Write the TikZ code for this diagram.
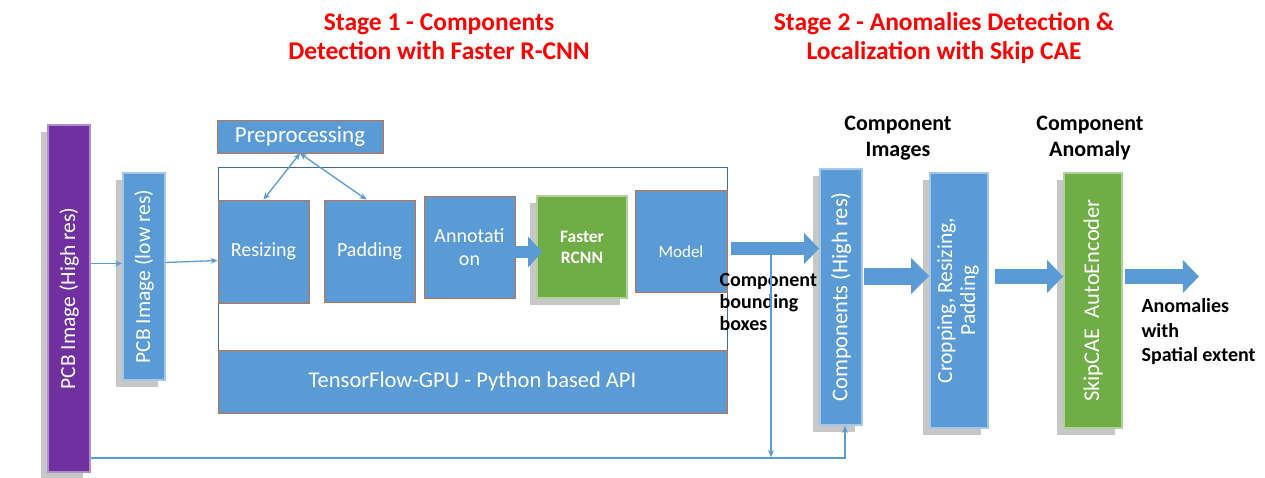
\documentclass[tikz,border=0pt]{standalone}
\usepackage{fontspec}
\setmainfont{Carlito}
\usepackage{graphicx}
\usepackage{tikz}
\definecolor{bx}{RGB}{91, 155, 213}
\definecolor{gn}{RGB}{112, 173, 71}
\definecolor{pp}{RGB}{112, 48, 160}
\definecolor{br}{RGB}{190, 115, 75}
\definecolor{rd}{RGB}{255, 0, 0}
\usetikzlibrary{positioning}
\usetikzlibrary{arrows.meta}
\usetikzlibrary{shadows}
\tikzset{
  shd/.style={drop shadow={shadow xshift=-7pt, shadow yshift=-7pt, opacity=0.22, fill=black}},
  box/.style={rectangle, inner sep=0pt, fill=bx, draw=br, line width=0.8pt, text=white, align=center},
  bar/.style={rectangle, inner sep=0pt, fill=bx, draw=bx!55!white, line width=1.8pt, text=white, shd},
  thin/.style={draw=bx, line width=1.3pt, -{Stealth[length=7pt, width=6pt]}},
  fat/.style={draw=bx, line width=15pt, -{Triangle[length=16pt, width=32pt]}},
  lbl/.style={font=\bfseries\fontsize{22}{26}\selectfont, align=center},
  ttl/.style={text=rd, font=\bfseries\fontsize{25.5}{29}\selectfont, align=center}
}

\begin{document}
\begin{tikzpicture}
\useasboundingbox (0pt, 0pt) rectangle (1265pt, -478pt);
% titles
\node (t1) [ttl] at (439pt, -37pt) {Stage 1 - Components\\Detection with Faster R-CNN};
\node (t2) [ttl] at (944pt, -38pt) {Stage 2 - Anomalies Detection \&\\Localization with Skip CAE};
% input images
\node (pcbh) [bar, fill=pp, draw=pp!55!white, minimum width=42pt, minimum height=347pt] at (69pt, -298.5pt)
  {\rotatebox{90}{\fontsize{21.5}{24}\selectfont PCB Image (High res)}};
\node (pcbl) [bar, minimum width=42pt, minimum height=207pt] at (144pt, -276.5pt)
  {\rotatebox{90}{\fontsize{21.5}{24}\selectfont PCB Image (low res)}};
% stage 1
\node (pre) [box, minimum width=166pt, minimum height=33pt, font=\fontsize{23}{25}\selectfont] at (300pt, -136.5pt) {Preprocessing};
\node (api) [rectangle, draw=bx!70!black, line width=0.8pt, fill=white, minimum width=509pt, minimum height=246pt] at (472.5pt, -290pt) {};
\node (res) [box, minimum width=91pt, minimum height=103pt, font=\fontsize{20}{22}\selectfont] at (263.5pt, -251.5pt) {Resizing};
\node (pad) [box, minimum width=91pt, minimum height=102pt, font=\fontsize{20}{22}\selectfont] at (369.5pt, -251pt) {Padding};
\node (ann) [box, minimum width=91pt, minimum height=102pt, font=\fontsize{20}{23}\selectfont] at (469.5pt, -247pt) {Annotati\\on};
\node (frc) [box, shd, fill=gn, draw=gn!55!white, line width=1.8pt, minimum width=90pt, minimum height=102pt, font=\bfseries\fontsize{17.5}{21}\selectfont] at (582pt, -247pt) {Faster\\RCNN};
\node (mdl) [box, align=none, text height=34pt, text depth=0pt, minimum width=92pt, minimum height=102pt, font=\fontsize{17}{19}\selectfont] at (681pt, -241pt) {Model};
\node (tf) [box, minimum width=509pt, minimum height=63pt, font=\fontsize{22.5}{25}\selectfont] at (472.5pt, -381.5pt) {TensorFlow-GPU - Python based API};
% stage 2
\node (comp) [bar, minimum width=42pt, minimum height=256pt] at (841pt, -297pt)
  {\rotatebox{90}{\fontsize{22.5}{24}\selectfont Components (High res)}};
\node (crop) [bar, minimum width=58pt, minimum height=255pt] at (959pt, -300.5pt)
  {\rotatebox{90}{\fontsize{21.5}{23}\selectfont\begin{tabular}{@{}c@{}}Cropping, Resizing,\\Padding\end{tabular}}};
\node (cae) [bar, fill=gn, draw=gn!55!white, minimum width=58pt, minimum height=255pt] at (1093pt, -300.5pt)
  {\rotatebox{90}{\fontsize{22.5}{24}\selectfont SkipCAE\ \ AutoEncoder}};
% labels
\node (lcomp) [lbl] at (898pt, -138pt) {Component\\Images};
\node (lano) [lbl] at (1090pt, -138pt) {Component\\Anomaly};
\node (lbb) [lbl, font=\bfseries\fontsize{20}{22}\selectfont, align=left, anchor=north west] at (716pt, -270pt) {Component\\bounding\\boxes};
\node (lout) [lbl, font=\bfseries\fontsize{20}{24.5}\selectfont, align=left, anchor=north west] at (1138pt, -295pt) {Anomalies\\with\\Spatial extent};
% helper points
\coordinate (mo) at ([xshift=4pt, yshift=-7.5pt]mdl.east);
\coordinate (bb) at (771pt, -255pt);
\coordinate (bj) at (771pt, -457pt);
% thin connectors
\draw [thin] ([yshift=35pt]pcbh.east) -- ([yshift=13pt]pcbl.west);
\draw [thin] ([yshift=14pt]pcbl.east) -- ([yshift=-9pt]res.west);
\draw [thin, {Stealth[length=7pt, width=6pt]}-{Stealth[length=7pt, width=6pt]}] (pre.south) -- (res.north);
\draw [thin, {Stealth[length=7pt, width=6pt]}-{Stealth[length=7pt, width=6pt]}] (pre.south) -- ([xshift=-3pt]pad.north);
\draw [thin] ([yshift=-159.5pt]pcbh.east) -| ([xshift=4pt]comp.south);
\draw [thin] (bb) -- (bj);
% block arrows
\draw [fat, line width=11pt, -{Triangle[length=14pt, width=30pt]}] ([yshift=-5pt]ann.east) -- ([xshift=6pt, yshift=-5pt]frc.west);
\draw [fat, line width=13pt, -{Triangle[length=15pt, width=30pt]}] (mo) -- (mo -| comp.west);
\draw [fat, line width=17pt, -{Triangle[length=18pt, width=35pt]}] ([xshift=1pt, yshift=21pt]comp.east) -- ([yshift=24.5pt]crop.west);
\draw [fat] ([xshift=6pt, yshift=24pt]crop.east) -- ([yshift=24pt]cae.west);
\draw [fat] ([xshift=2pt, yshift=24pt]cae.east) -- ++(74pt, 0pt);
\end{tikzpicture}
\end{document}
